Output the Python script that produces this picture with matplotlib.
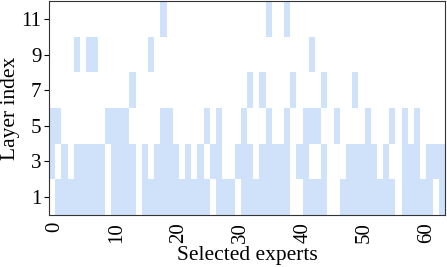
import numpy as np
import matplotlib
matplotlib.use("Agg")
import matplotlib.pyplot as plt
from matplotlib.colors import ListedColormap

# selected expert indices for each plotted layer (bottom row first)
n_experts = 64
layer_labels = [1, 3, 5, 7, 9, 11]
layer_1 = [1, 2, 3, 4, 5, 6, 7, 8, 10, 11, 12, 13, 15, 16, 17, 18, 19, 20, 21, 22, 23, 24, 25,
           27, 28, 29, 31, 32, 33, 34, 35, 36, 37, 38, 41, 42, 43, 44,
           47, 48, 49, 50, 51, 52, 53, 54, 55, 57, 58, 59, 60, 61, 63]
layer_3 = [0, 2, 4, 5, 6, 7, 8, 10, 11, 12, 13, 15, 17, 18, 19, 20, 22, 24, 26, 27,
           30, 31, 32, 34, 35, 36, 37, 38, 40, 41, 44, 48, 49, 50, 51, 52, 54,
           57, 58, 59, 61, 62, 63]
layer_5 = [0, 1, 9, 10, 11, 12, 18, 19, 25, 27, 31, 35, 38, 41, 42, 43, 46, 51, 55, 57, 59]
layer_7 = [13, 32, 34, 39, 44, 49]
layer_9 = [4, 6, 7, 16, 42]
layer_11 = [18, 35, 38]
layers = [layer_1, layer_3, layer_5, layer_7, layer_9, layer_11]

mask = np.zeros((len(layers), n_experts))
for i, sel in enumerate(layers):
    mask[i, sel] = 1

plt.rcParams['font.family'] = ['Liberation Serif', 'DejaVu Serif']

fig = plt.figure(figsize=(4.47, 2.67), dpi=100)
ax = fig.add_axes([0.1096, 0.195, 0.8859, 0.801])

cmap = ListedColormap(['white', '#cfe2fa'])
ax.imshow(mask, cmap=cmap, aspect='auto', origin='lower',
          extent=(-1, n_experts - 1, 0, 2 * len(layers)), interpolation='nearest')

ax.set_yticks([2 * i + 1 for i in range(len(layers))])
ax.set_yticklabels(layer_labels)
ax.set_xticks(range(0, n_experts, 10))
ax.tick_params(axis='x', labelrotation=90, length=0, labelsize=15, pad=5)
ax.tick_params(axis='y', length=3.5, labelsize=15, pad=2)
ax.set_xlabel('Selected experts', fontsize=15.5, labelpad=2)
ax.set_ylabel('Layer index', fontsize=15.5)
ax.yaxis.set_label_coords(-0.072, 0.5)
for s in ax.spines.values():
    s.set_color('#333333')

fig.savefig('out.png', dpi=100)
